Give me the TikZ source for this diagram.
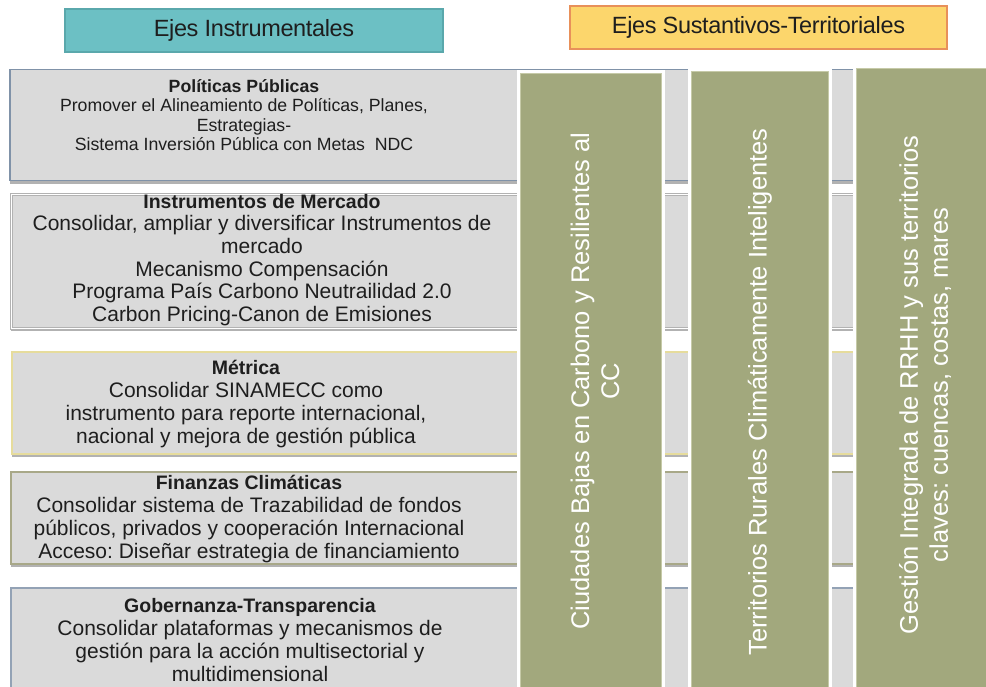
\documentclass[tikz,border=0pt]{standalone}
\usepackage{fontspec}
\setmainfont{Liberation Sans}
\newfontfamily\headfont[LetterSpace=-1.5]{Liberation Sans}
\usetikzlibrary{shadows}
\definecolor{tealh}{HTML}{6CC0C4}
\definecolor{tealb}{HTML}{5AA8AC}
\definecolor{yelh}{HTML}{FCD66C}
\definecolor{orab}{HTML}{E8905A}
\definecolor{boxg}{HTML}{DADADA}
\definecolor{bblue}{HTML}{8092A8}
\definecolor{byel}{HTML}{E6DC9C}
\definecolor{boli}{HTML}{A8A888}
\definecolor{olv}{HTML}{A2A87D}
\definecolor{olvl}{HTML}{C6CAA8}
\definecolor{txt}{HTML}{1E1E1E}
\frenchspacing
\begin{document}
\begin{tikzpicture}[x=1pt,y=-1pt]
\useasboundingbox (0,0) rectangle (986,687);
\tikzset{
  head/.style={rectangle, inner sep=0pt, line width=1.5pt, text=txt,
    font=\headfont\fontsize{23.5}{26}\selectfont},
  gbox/.style={rectangle, anchor=north west, inner sep=0pt, fill=boxg,
    line width=1.5pt, minimum width=990pt,
    general shadow={fill=black!30, shadow xshift=0pt, shadow yshift=-3pt}},
  btext/.style={align=center, text=txt, inner sep=0pt,
    font=\fontsize{21}{22.7}\selectfont},
  col/.style={rectangle, anchor=north west, inner sep=0pt, fill=olv,
    draw=white, line width=3pt},
  inl/.style={draw=olvl, line width=0.8pt},
  ctext/.style={rotate=90, align=center, text=white, inner sep=0pt,
    font=\fontsize{25.5}{30}\selectfont}
}
% headers
\node[head, fill=tealh, draw=tealb, minimum width=378pt, minimum height=43pt]
  (h1) at (254,30.5) {Ejes Instrumentales};
\node[head, fill=yelh, draw=orab, minimum width=377pt, minimum height=43pt]
  (h2) at (758.5,27.5) {Ejes Sustantivos-Territoriales};
% horizontal boxes
\node[gbox, draw=bblue, minimum height=111pt] (pp) at (9,69) {};
\node[gbox, draw=black!30, double=white, double distance=1.5pt, line width=0.8pt,
  minimum height=134pt] (im) at (11,194) {};
\node[gbox, draw=byel, minimum height=102pt] (me) at (11,351) {};
\node[gbox, draw=boli, minimum height=92pt] (fi) at (10,471) {};
\node[gbox, draw=bblue!85, minimum height=112pt] (go) at (10,587) {};
% box texts
\node[btext, font=\fontsize{17.7}{19.6}\selectfont] (tpp) at (244,115)
  {\textbf{Políticas Públicas}\\Promover el Alineamiento de Políticas, Planes,\\Estrategias-\\Sistema Inversión Pública con Metas\ \ NDC};
\node[btext] (tim) at (262,260)
  {{\fontsize{19.5}{22.7}\selectfont\textbf{Instrumentos de Mercado}}\\Consolidar, ampliar y diversificar Instrumentos de\\mercado\\Mecanismo Compensación\\Programa País Carbono Neutrailidad 2.0\\Carbon Pricing-Canon de Emisiones};
\node[btext] (tme) at (246,404)
  {{\fontsize{19.5}{22.7}\selectfont\textbf{Métrica}}\\Consolidar SINAMECC como\\instrumento para reporte internacional,\\nacional y mejora de gestión pública};
\node[btext] (tfi) at (249,519)
  {{\fontsize{19.5}{22.7}\selectfont\textbf{Finanzas Climáticas}}\\Consolidar sistema de Trazabilidad de fondos\\públicos, privados y cooperación Internacional\\Acceso: Diseñar estrategia de financiamiento};
\node[btext] (tgo) at (250,640)
  {{\fontsize{19.5}{22.7}\selectfont\textbf{Gobernanza-Transparencia}}\\Consolidar plataformas y mecanismos de\\gestión para la acción multisectorial y\\multidimensional};
% vertical columns
\node[col, minimum width=145pt, minimum height=640pt] (c1) at (517,70) {};
\node[col, minimum width=141pt, minimum height=640pt] (c2) at (688,68) {};
\node[col, minimum width=150pt, minimum height=640pt] (c3) at (853,65) {};
\draw[inl] ([shift={(3.5,3.5)}]c1.north west) rectangle ([shift={(-3.5,-3.5)}]c1.south east);
\draw[inl] ([shift={(3.5,3.5)}]c2.north west) rectangle ([shift={(-3.5,-3.5)}]c2.south east);
\draw[inl] ([shift={(3.5,3.5)}]c3.north west) rectangle ([shift={(-3.5,-3.5)}]c3.south east);
\node[ctext] (tc1) at (595,381) {Ciudades Bajas en Carbono y Resilientes al\\CC};
\node[ctext] (tc2) at (760,392) {Territorios Rurales Climáticamente Inteligentes};
\node[ctext] (tc3) at (925,385) {Gestión Integrada de RRHH y sus territorios\\claves: cuencas, costas, mares};
\end{tikzpicture}
\end{document}
